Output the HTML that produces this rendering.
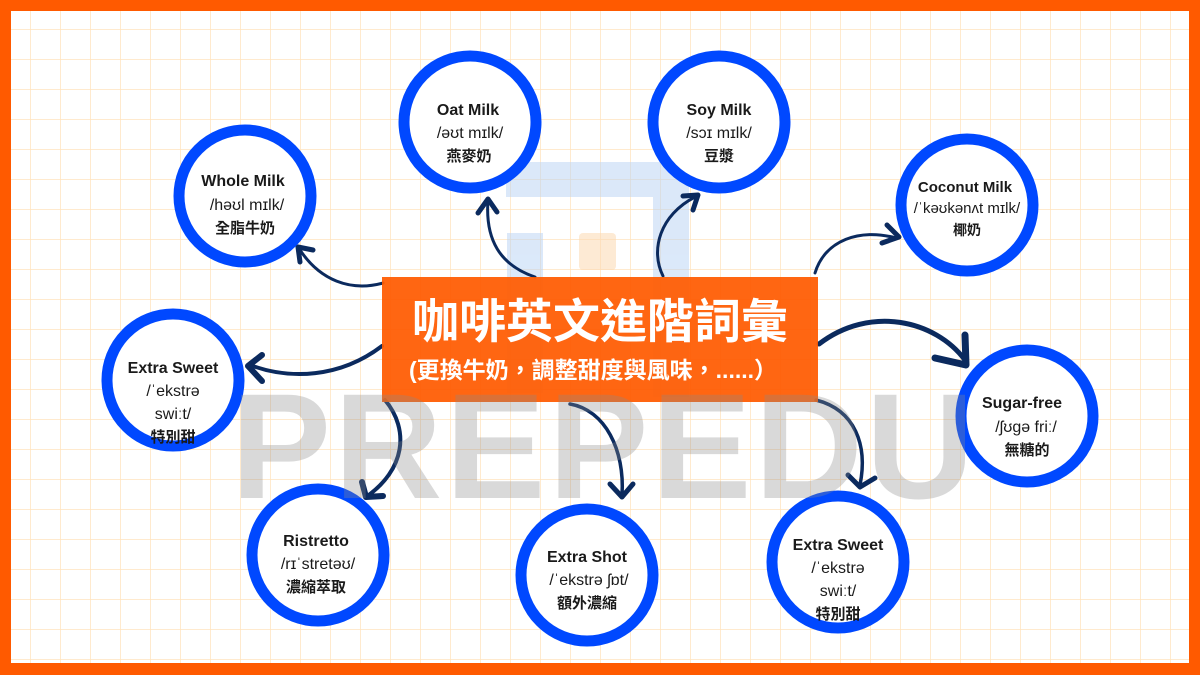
<!DOCTYPE html>
<html><head><meta charset="utf-8"><style>
body{margin:0;width:1200px;height:675px;overflow:hidden;background:#FF5A00}
svg{display:block}
</style></head><body>
<svg width="1200" height="675" viewBox="0 0 1200 675" xmlns="http://www.w3.org/2000/svg" font-family="Liberation Sans, 'Noto Sans CJK TC', sans-serif">
<defs>
<pattern id="g" x="1" y="0" width="30" height="30" patternUnits="userSpaceOnUse">
<path d="M30 0V30M0 30H30" stroke="#FFE3BE" stroke-width="1.5" fill="none"/>
</pattern>
</defs>
<rect x="0" y="0" width="1200" height="675" fill="#FF5A00"/>
<rect x="11" y="11" width="1178" height="652" fill="#fff"/>
<rect x="11" y="11" width="1178" height="652" fill="url(#g)"/>
<!-- logo watermark -->
<g fill="#B8D3F5" opacity="0.5">
<rect x="506" y="162" width="183" height="35"/>
<rect x="653" y="197" width="36" height="200"/>
<rect x="507" y="233" width="36" height="160"/>
</g>
<rect x="579" y="233" width="37" height="37" rx="4" fill="#FCD9B0" opacity="0.55"/>
<!-- connectors -->
<g stroke="#0B2A5E" fill="none" stroke-linecap="round" stroke-linejoin="round">
<path d="M383 283C350 292 320 280 300 250" stroke-width="3"/>
<path d="M300 262L298 247L313 250" stroke-width="5"/>
<path d="M535 277C500 265 485 240 488 200" stroke-width="3"/>
<path d="M478 213L488 199L497 212" stroke-width="5"/>
<path d="M663 276C650 250 660 215 695 197" stroke-width="3"/>
<path d="M683 196L698 195L693 210" stroke-width="5"/>
<path d="M815 273C825 240 860 228 896 238" stroke-width="3"/>
<path d="M887 225L899 237L882 243" stroke-width="5"/>
<path d="M382 346C340 378 290 380 250 365" stroke-width="4"/>
<path d="M262 355L248 366L262 381" stroke-width="6"/>
<path d="M819 344C870 305 935 320 965 360" stroke-width="5"/>
<path d="M965 335L966 365L935 358" stroke-width="7"/>
<path d="M385 400C410 430 405 470 366 497" stroke-width="4"/>
<path d="M362 482L366 497L383 496" stroke-width="6"/>
<path d="M570 404C605 410 625 450 622 495" stroke-width="3.5"/>
<path d="M610 484L622 497L633 484" stroke-width="5"/>
<path d="M816 400C855 410 868 445 860 485" stroke-width="3.5"/>
<path d="M848 475L860 487L875 478" stroke-width="5"/>
</g>
<!-- central box -->
<rect x="382" y="277" width="436" height="125" fill="#FF5A00" opacity="0.93"/>
<text x="600" y="338" text-anchor="middle" font-size="47" font-weight="bold" fill="#fff">咖啡英文進階詞彙</text>
<text x="593" y="378" text-anchor="middle" font-size="23" font-weight="bold" fill="#fff">(更換牛奶，調整甜度與風味，......）</text>
<!-- circles -->
<g fill="#fff" stroke="#0048FF" stroke-width="11">
<circle cx="245" cy="196" r="66"/>
<circle cx="470" cy="122" r="66"/>
<circle cx="719" cy="122" r="66"/>
<circle cx="967" cy="205" r="66"/>
<circle cx="173" cy="380" r="66"/>
<circle cx="1027" cy="416" r="66"/>
<circle cx="318" cy="555" r="66"/>
<circle cx="587" cy="575" r="66"/>
<circle cx="838" cy="562" r="66"/>
</g>
<g fill="#1a1a1a" text-anchor="middle" font-size="16">
<text x="243" y="186" font-weight="bold">Whole Milk</text><text x="247" y="210">/həʊl mɪlk/</text><text x="245" y="233" font-weight="bold" font-size="15">全脂牛奶</text>
<text x="468" y="115" font-weight="bold">Oat Milk</text><text x="470" y="138">/əʊt mɪlk/</text><text x="469" y="161" font-weight="bold" font-size="15">燕麥奶</text>
<text x="719" y="115" font-weight="bold">Soy Milk</text><text x="719" y="138">/sɔɪ mɪlk/</text><text x="719" y="161" font-weight="bold" font-size="15">豆漿</text>
<text x="965" y="192" font-weight="bold" font-size="15">Coconut Milk</text><text x="967" y="213" font-size="15">/ˈkəʊkənʌt mɪlk/</text><text x="967" y="235" font-weight="bold" font-size="14">椰奶</text>
<text x="173" y="373" font-weight="bold">Extra Sweet</text><text x="173" y="396">/ˈekstrə</text><text x="173" y="419">swiːt/</text><text x="173" y="442" font-weight="bold" font-size="15">特別甜</text>
<text x="1022" y="408" font-weight="bold">Sugar-free</text><text x="1026" y="432">/ʃʊgə friː/</text><text x="1027" y="455" font-weight="bold" font-size="15">無糖的</text>
<text x="316" y="546" font-weight="bold">Ristretto</text><text x="318" y="569">/rɪˈstretəʊ/</text><text x="316" y="592" font-weight="bold" font-size="15">濃縮萃取</text>
<text x="587" y="562" font-weight="bold">Extra Shot</text><text x="589" y="585">/ˈekstrə ʃɒt/</text><text x="587" y="608" font-weight="bold" font-size="15">額外濃縮</text>
<text x="838" y="550" font-weight="bold">Extra Sweet</text><text x="838" y="573">/ˈekstrə</text><text x="838" y="596">swiːt/</text><text x="838" y="619" font-weight="bold" font-size="15">特別甜</text>
</g>
<!-- PREPEDU watermark -->
<text x="231" y="498" font-size="150" font-weight="bold" fill="#8a8a8a" opacity="0.32" letter-spacing="3">PREPEDU</text>
</svg>
</body></html>
